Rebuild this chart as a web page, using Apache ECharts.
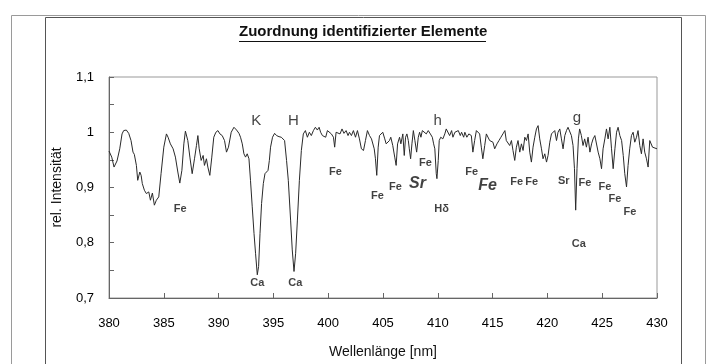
<!DOCTYPE html>
<html>
<head>
<meta charset="utf-8">
<title>Zuordnung identifizierter Elemente</title>
<script src="https://cdn.jsdelivr.net/npm/echarts@6/dist/echarts.min.js"></script>
<style>
  html, body { margin: 0; padding: 0; background: #fff; }
  #main { width: 712px; height: 364px; }
</style>
</head>
<body>
<div id="main"></div>
<script>
// Spektrum
var wellenlaenge = [
  380.00, 380.25, 380.46, 380.73, 380.98, 381.19, 381.34, 381.58, 381.80, 382.01,
  382.19, 382.31, 382.50, 382.62, 382.81, 382.93, 383.04, 383.23, 383.41, 383.63,
  383.78, 383.96, 384.14, 384.32, 384.54, 384.75, 385.00, 385.24, 385.39, 385.60,
  385.85, 386.06, 386.28, 386.46, 386.65, 386.83, 386.97, 387.19, 387.38, 387.59,
  387.80, 387.98, 388.11, 388.23, 388.41, 388.59, 388.71, 388.89, 389.02, 389.20,
  389.38, 389.56, 389.75, 389.94, 390.12, 390.33, 390.54, 390.72, 390.90, 391.15,
  391.40, 391.64, 391.86, 392.00, 392.16, 392.31, 392.46, 392.61, 392.77, 392.91,
  393.07, 393.23, 393.37, 393.53, 393.65, 393.78, 393.92, 394.08, 394.23, 394.38,
  394.51, 394.63, 394.74, 394.92, 395.11, 395.29, 395.51, 395.72, 395.90, 396.02,
  396.20, 396.36, 396.57, 396.72, 396.88, 397.03, 397.19, 397.37, 397.55, 397.73,
  397.92, 398.10, 398.28, 398.46, 398.65, 398.83, 399.01, 399.17, 399.31, 399.47,
  399.63, 399.77, 399.93, 400.11, 400.29, 400.48, 400.59, 400.72, 400.90, 401.08,
  401.26, 401.44, 401.63, 401.81, 401.94, 402.12, 402.30, 402.49, 402.67, 402.85,
  403.03, 403.22, 403.40, 403.58, 403.77, 403.95, 404.20, 404.31, 404.43, 404.56,
  404.68, 404.80, 404.98, 405.16, 405.29, 405.41, 405.59, 405.71, 405.89, 406.07,
  406.20, 406.33, 406.51, 406.63, 406.81, 406.94, 407.06, 407.18, 407.31, 407.40,
  407.52, 407.64, 407.77, 407.91, 408.07, 408.22, 408.34, 408.46, 408.59, 408.77,
  408.95, 409.13, 409.32, 409.50, 409.62, 409.73, 409.86, 409.92, 410.04, 410.13,
  410.27, 410.46, 410.64, 410.77, 410.95, 411.08, 411.26, 411.38, 411.56, 411.74,
  411.87, 412.05, 412.17, 412.36, 412.47, 412.65, 412.83, 413.06, 413.20, 413.36,
  413.52, 413.66, 413.82, 413.97, 414.11, 414.28, 414.43, 414.57, 414.73, 414.89,
  415.03, 415.19, 415.40, 415.58, 415.76, 415.94, 416.12, 416.25, 416.37, 416.56,
  416.72, 416.86, 417.02, 417.17, 417.32, 417.48, 417.63, 417.78, 417.94, 418.09,
  418.24, 418.39, 418.54, 418.69, 418.85, 419.00, 419.15, 419.30, 419.46, 419.60,
  419.76, 419.92, 420.06, 420.22, 420.37, 420.51, 420.67, 420.83, 420.97, 421.13,
  421.28, 421.43, 421.59, 421.74, 421.88, 422.04, 422.19, 422.34, 422.47, 422.58,
  422.70, 422.83, 422.94, 423.10, 423.25, 423.40, 423.56, 423.71, 423.88, 424.03,
  424.17, 424.33, 424.48, 424.63, 424.79, 424.94, 425.08, 425.24, 425.39, 425.54,
  425.70, 425.85, 426.00, 426.16, 426.31, 426.45, 426.61, 426.77, 426.92, 427.06,
  427.22, 427.36, 427.51, 427.67, 427.82, 427.97, 428.13, 428.27, 428.43, 428.58,
  428.73, 428.88, 429.04, 429.19, 429.34, 429.50, 429.59, 429.73, 430.00
];
var intensitaet = [
  0.966, 0.955, 0.937, 0.948, 0.970, 0.997, 1.003, 1.004, 0.998, 0.985,
  0.964, 0.960, 0.940, 0.913, 0.928, 0.922, 0.907, 0.895, 0.889, 0.892,
  0.877, 0.890, 0.868, 0.877, 0.883, 0.925, 0.973, 0.997, 0.991, 0.979,
  0.970, 0.955, 0.928, 0.908, 0.931, 0.979, 1.002, 0.985, 0.955, 0.925,
  0.952, 0.976, 0.994, 0.970, 0.949, 0.958, 0.940, 0.952, 0.937, 0.922,
  0.955, 0.991, 1.000, 1.003, 0.997, 0.994, 0.985, 0.964, 0.973, 1.000,
  1.009, 1.004, 0.998, 0.991, 0.979, 0.961, 0.955, 0.961, 0.952, 0.913,
  0.865, 0.817, 0.781, 0.742, 0.757, 0.817, 0.871, 0.907, 0.925, 0.928,
  0.931, 0.949, 0.973, 0.991, 0.998, 0.994, 0.992, 0.991, 0.992, 0.985,
  0.949, 0.913, 0.841, 0.787, 0.748, 0.781, 0.841, 0.913, 0.967, 0.997,
  1.003, 0.991, 1.000, 0.994, 1.003, 1.009, 1.004, 1.009, 1.000, 0.994,
  0.997, 0.991, 1.003, 1.006, 0.997, 0.991, 0.973, 1.000, 1.002, 0.997,
  1.006, 0.998, 1.003, 0.994, 1.000, 0.994, 1.003, 0.991, 1.003, 0.988,
  0.970, 0.967, 0.985, 1.003, 0.994, 0.988, 0.970, 0.952, 0.922, 0.973,
  0.994, 0.991, 1.000, 0.988, 0.979, 0.976, 0.985, 0.991, 0.976, 0.955,
  0.940, 0.979, 0.991, 0.979, 0.997, 0.958, 0.991, 0.997, 0.985, 0.970,
  0.952, 0.979, 1.003, 0.985, 0.964, 0.991, 1.000, 0.991, 1.003, 1.000,
  0.997, 1.003, 0.997, 0.991, 0.979, 0.970, 0.925, 0.916, 0.949, 0.985,
  0.991, 0.988, 0.997, 1.006, 1.003, 0.994, 1.003, 0.991, 1.000, 0.997,
  1.003, 0.994, 1.000, 0.991, 1.000, 0.991, 0.997, 0.994, 0.964, 0.985,
  1.003, 1.006, 0.997, 0.973, 0.952, 0.976, 0.997, 0.994, 0.985, 0.988,
  0.982, 0.970, 0.979, 0.985, 0.991, 0.997, 1.003, 0.985, 0.988, 0.976,
  0.985, 0.967, 0.949, 0.973, 0.985, 0.964, 0.979, 0.967, 0.991, 0.985,
  0.997, 0.964, 0.946, 0.973, 0.991, 1.006, 1.012, 0.988, 0.970, 0.952,
  0.961, 0.946, 0.958, 0.982, 0.997, 0.994, 1.003, 0.985, 1.000, 1.006,
  0.988, 0.970, 0.994, 1.003, 1.009, 1.012, 0.994, 0.976, 0.934, 0.859,
  0.934, 0.988, 1.006, 0.994, 0.976, 0.988, 0.973, 0.991, 0.964, 0.979,
  0.988, 0.994, 0.997, 0.964, 0.952, 0.934, 0.970, 0.988, 1.006, 0.988,
  1.009, 0.970, 0.934, 0.970, 1.000, 1.009, 0.994, 0.985, 0.958, 0.925,
  0.901, 0.940, 0.970, 0.994, 1.000, 0.982, 0.991, 1.003, 0.976, 0.961,
  0.988, 0.964, 0.952, 0.937, 0.985, 0.988, 0.973, 0.976, 0.970
];

// Beschriftungen der Linien
var elementNamen = ['Fe', 'Ca', 'Ca', 'Fe', 'Fe', 'Fe', 'Fe', 'H\u03b4', 'Fe', 'Fe', 'Fe', 'Sr', 'Ca', 'Fe', 'Fe', 'Fe', 'Fe'];
var elementWl    = [386.49, 393.53, 397.00, 400.66, 404.50, 406.14, 408.88, 410.35, 413.09, 417.20, 418.57, 421.50, 422.87, 423.42, 425.25, 426.16, 427.53];
var elementInt   = [0.862, 0.727, 0.727, 0.928, 0.885, 0.901, 0.945, 0.862, 0.928, 0.910, 0.910, 0.912, 0.797, 0.909, 0.901, 0.880, 0.855];

var serieNamen = ['K', 'H', 'h', 'g'];
var serieWl    = [393.44, 396.82, 409.98, 422.69];
var serieInt   = [1.020, 1.020, 1.020, 1.026];

var hervorNamen = ['Sr', 'Fe'];
var hervorWl    = [408.15, 414.55];
var hervorInt   = [0.907, 0.903];

var xTicks = [380, 385, 390, 395, 400, 405, 410, 415, 420, 425, 430];

var schrift = 'Liberation Sans, Arial, sans-serif';

function punkte(xs, ys) {
    return xs.map(function (x, i) { return [x, ys[i]]; });
}
function labelPunkte(namen, xs, ys) {
    return namen.map(function (n, i) { return { name: n, value: [xs[i], ys[i]] }; });
}
function labelSerie(namen, xs, ys, style) {
    return {
        type: 'scatter',
        symbolSize: 0,
        silent: true,
        z: 5,
        data: labelPunkte(namen, xs, ys),
        label: Object.assign({
            show: true,
            position: 'inside',
            formatter: '{b}',
            color: '#111',
            fontFamily: schrift
        }, style)
    };
}

var myChart = echarts.init(document.getElementById('main'));

var option = {
    animation: false,
    backgroundColor: '#fff',
    title: {
        text: 'Zuordnung identifizierter Elemente',
        left: 239,
        top: 24,
        padding: 0,
        textStyle: { fontFamily: schrift, fontSize: 15, fontWeight: 'bold', color: '#111' }
    },
    graphic: [
        { type: 'rect', silent: true, z: -10, shape: { x: 11.5, y: 15.5, width: 694, height: 360 },
          style: { fill: null, stroke: '#9a9a9a', lineWidth: 1 } },
        { type: 'rect', silent: true, z: -10, shape: { x: 45.5, y: 17.5, width: 636, height: 360 },
          style: { fill: null, stroke: '#555', lineWidth: 1 } },
        { type: 'line', silent: true, shape: { x1: 239, y1: 41.5, x2: 486, y2: 41.5 },
          style: { stroke: '#111', lineWidth: 1 } }
    ],
    grid: {
        left: 109,
        right: 55,
        top: 77,
        bottom: 64,
        show: true,
        borderColor: '#999',
        borderWidth: 1
    },
    xAxis: {
        type: 'value',
        min: 380,
        max: 430,
        interval: 5,
        name: 'Wellenlänge [nm]',
        nameLocation: 'middle',
        nameGap: 47,
        nameTextStyle: { fontFamily: schrift, fontSize: 14, color: '#111' },
        axisLine: { lineStyle: { color: '#666' } },
        axisTick: { inside: true, length: 5, lineStyle: { color: '#666' } },
        axisLabel: {
            margin: 19,
            fontFamily: schrift, fontSize: 13, color: '#000',
            customValues: xTicks
        },
        splitLine: { show: false }
    },
    yAxis: {
        type: 'value',
        min: 0.7,
        max: 1.1,
        interval: 0.1,
        name: 'rel. Intensität',
        nameLocation: 'middle',
        nameGap: 45,
        nameTextStyle: { fontFamily: schrift, fontSize: 14, color: '#111' },
        axisLine: { show: true, lineStyle: { color: '#666' } },
        axisTick: { show: true, inside: true, length: 5, lineStyle: { color: '#666' } },
        minorTick: { show: true, splitNumber: 2, length: 5, lineStyle: { color: '#666' } },
        axisLabel: {
            margin: 15,
            fontFamily: schrift, fontSize: 13, color: '#000',
            formatter: function (v) { return String(+v.toFixed(1)).replace('.', ','); }
        },
        splitLine: { show: false }
    },
    series: [
        {
            name: 'Spektrum',
            type: 'line',
            data: punkte(wellenlaenge, intensitaet),
            showSymbol: false,
            symbol: 'none',
            lineStyle: { color: '#2a2a2a', width: 1 },
            z: 3
        },
        labelSerie(elementNamen, elementWl, elementInt, { fontSize: 11, fontWeight: 'bold' }),
        labelSerie(serieNamen, serieWl, serieInt, { fontSize: 15 }),
        labelSerie(hervorNamen, hervorWl, hervorInt, { fontSize: 16, fontWeight: 'bold', fontStyle: 'italic' })
    ]
};

myChart.setOption(option);
</script>
</body>
</html>
